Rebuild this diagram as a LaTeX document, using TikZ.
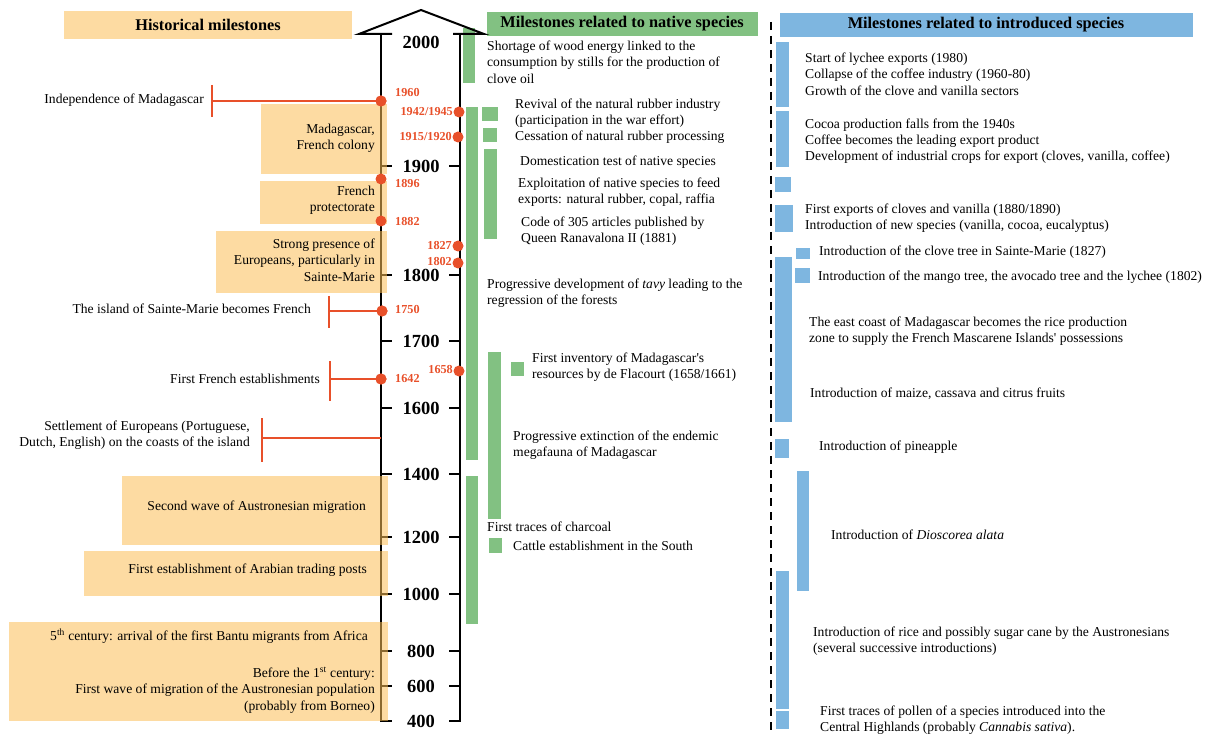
\documentclass[tikz,border=0pt]{standalone}
\usepackage{fontspec}
\setmainfont{Liberation Serif}[Ligatures=TeXOff]
\definecolor{myred}{HTML}{E8502A}
\definecolor{mygreen}{HTML}{82C182}
\definecolor{myblue}{HTML}{7EB6E0}
\definecolor{myorange}{HTML}{FCBE55}
\begin{document}
\begin{tikzpicture}[x=1pt,y=-1pt,
  every node/.style={inner sep=0pt, font=\fontsize{13.6}{16.3}\selectfont},
  axisl/.style={line width=2.6pt, black},
  tickl/.style={line width=2.6pt, black},
  yearl/.style={font=\fontsize{18.5}{20}\selectfont\bfseries},
  dotn/.style={circle, fill=myred, minimum size=11pt},
  redl/.style={text=myred, font=\fontsize{12.2}{14}\selectfont\bfseries},
  redline/.style={draw=myred, line width=2.5pt},
  hbox/.style={fill=myorange, fill opacity=0.55},
  nbar/.style={fill=mygreen},
  ibar/.style={fill=myblue},
  ttl/.style={font=\fontsize{16.3}{18}\selectfont\bfseries},
  lt/.style={anchor=west, align=left},
  rt/.style={anchor=east, align=right},
]
\useasboundingbox (0,0) rectangle (1213,735);

% ---------- titles
\fill[hbox] (64,11) rectangle (352,39);
\node[ttl] (t1) at (208,25) {Historical milestones};
\fill[nbar] (487,12) rectangle (758,36);
\node[ttl] (t2) at (622,24) {Milestones related to native species};
\fill[ibar] (780,13) rectangle (1193,37);
\node[ttl] (t3) at (986,25) {Milestones related to introduced species};

% ---------- green bar under arrow
\fill[nbar] (463,28) rectangle (475,83);

% ---------- axis
\draw[line width=2pt] (392,34) -- (359,34) -- (421,10) -- (484,34) -- (453,34);
\coordinate (topL) at (381,34);
\coordinate (botL) at (381,722);
\coordinate (topR) at (460,34);
\coordinate (botR) at (460,722);
\draw[axisl] (topL) -- (botL);
\draw[axisl] (topR) -- (botR);
\node[yearl] (y2000) at (421,42) {2000};
\foreach \lab/\y in {1900/166,1800/275,1700/341,1600/408,1400/474,1200/537,1000/594,800/651,600/686,400/721}{
  \draw[tickl] (380,\y) -- (392,\y);
  \draw[tickl] (449,\y) -- (461,\y);
  \node[yearl] (y\lab) at (421,\y) {\lab};
}

% ---------- historical boxes
\fill[hbox] (261,104) rectangle (387,174);
\node[rt] (hb1) at (375,138) {Madagascar,\\French colony};
\fill[hbox] (260,181) rectangle (387,224);
\node[rt] (hb2) at (375,200) {French\\protectorate};
\fill[hbox] (216,231) rectangle (387,293);
\node[rt] (hb3) at (375,260) {Strong presence of\\Europeans, particularly in\\Sainte-Marie};
\fill[hbox] (122,476) rectangle (388,545);
\node[rt] (hb4) at (366,507) {Second wave of Austronesian migration};
\fill[hbox] (84,551) rectangle (388,596);
\node[rt] (hb5) at (367,570) {First establishment of Arabian trading posts};
\fill[hbox] (9,622) rectangle (388,721);
\node[rt] (hb6) at (368,636) {5\textsuperscript{th} century: arrival of the first Bantu migrants from Africa};
\node[rt] (hb7) at (375,690) {Before the 1\textsuperscript{st} century:\\First wave of migration of the Austronesian population\\(probably from Borneo)};

% ---------- red events on left axis
\coordinate (e1960) at (212,101);
\coordinate (e1750) at (329,311);
\coordinate (e1642) at (330,379);
\coordinate (eSet) at (262,438);
\coordinate (aSet) at (381,438);
\node[dotn] (d1960) at (381,101) {};
\node[dotn] (d1896) at (381,179) {};
\node[dotn] (d1882) at (381,221) {};
\node[dotn] (d1750) at (382,311) {};
\node[dotn] (d1642) at (381,379) {};
\draw[redline] (e1960) -- (d1960.center);
\draw[redline] (212,85) -- (212,117);
\draw[redline] (e1750) -- (d1750.center);
\draw[redline] (329,296) -- (329,328);
\draw[redline] (e1642) -- (d1642.center);
\draw[redline] (330,361) -- (330,401);
\draw[redline] (eSet) -- (aSet);
\draw[redline] (262,418) -- (262,462);
\node[dotn] at (381,101) {};
\node[dotn] at (382,311) {};
\node[dotn] at (381,379) {};
\node[redl, anchor=west] (l1960) at (395,93) {1960};
\node[redl, anchor=west] (l1896) at (395,184) {1896};
\node[redl, anchor=west] (l1882) at (395,222) {1882};
\node[redl, anchor=west] (l1750) at (395,310) {1750};
\node[redl, anchor=west] (l1642) at (395,379) {1642};

\node[rt] (h1) at (204,100) {Independence of Madagascar};
\node[rt] (h2) at (311,309) {The island of Sainte-Marie becomes French};
\node[rt] (h3) at (320,379) {First French establishments};
\node[rt] (h4) at (250,435) {Settlement of Europeans (Portuguese,\\Dutch, English) on the coasts of the island};

% ---------- red events on right axis
\node[dotn] (d1942) at (459,112) {};
\node[dotn] (d1915) at (458,137) {};
\node[dotn] (d1827) at (458,246) {};
\node[dotn] (d1802) at (458,263) {};
\node[dotn] (d1658) at (459,371) {};
\node[redl, anchor=east] (l1942) at (453,112) {1942/1945};
\node[redl, anchor=east] (l1915) at (452,137) {1915/1920};
\node[redl, anchor=east] (l1827) at (452,246) {1827};
\node[redl, anchor=east] (l1802) at (452,262) {1802};
\node[redl, anchor=east] (l1658) at (453,370) {1658};

% ---------- native species bars
\fill[nbar] (466,107) rectangle (478,460);
\fill[nbar] (466,476) rectangle (478,624);
\fill[nbar] (482,107) rectangle (498,121);
\fill[nbar] (483,128) rectangle (497,142);
\fill[nbar] (484,149) rectangle (497,239);
\fill[nbar] (488,352) rectangle (501,519);
\fill[nbar] (511,362) rectangle (524,376);
\fill[nbar] (489,538) rectangle (502,553);

\node[lt] (n1) at (487,62) {Shortage of wood energy linked to the\\consumption by stills for the production of\\clove oil};
\node[lt] (n2) at (515,113) {Revival of the natural rubber industry\\(participation in the war effort)};
\node[lt] (n3) at (515,137) {Cessation of natural rubber processing};
\node[lt] (n4) at (520,162) {Domestication test of native species};
\node[lt] (n5) at (518,192.5) {Exploitation of native species to feed\\exports: natural rubber, copal, raffia};
\node[lt] (n6) at (521,231.5) {Code of 305 articles published by\\Queen Ranavalona II (1881)};
\node[lt] (n7) at (487,293) {Progressive development of \textit{tavy} leading to the\\regression of the forests};
\node[lt] (n8) at (532,367.5) {First inventory of Madagascar's\\resources by de Flacourt (1658/1661)};
\node[lt] (n9) at (513,445) {Progressive extinction of the endemic\\megafauna of Madagascar};
\node[lt] (n10) at (487,527) {First traces of charcoal};
\node[lt] (n11) at (513,546) {Cattle establishment in the South};

% ---------- dashed separator
\coordinate (sepT) at (771,22);
\coordinate (sepB) at (771,735);
\draw[line width=2pt, dash pattern=on 8pt off 6pt] (sepT) -- (sepB);

% ---------- introduced species bars
\fill[ibar] (776,42) rectangle (789,107);
\fill[ibar] (776,111) rectangle (789,167);
\fill[ibar] (775,177) rectangle (791,192);
\fill[ibar] (775,205) rectangle (793,232);
\fill[ibar] (796,248) rectangle (810,259);
\fill[ibar] (775,257) rectangle (792,422);
\fill[ibar] (795,268) rectangle (810,283);
\fill[ibar] (775,439) rectangle (789,458);
\fill[ibar] (797,471) rectangle (809,591);
\fill[ibar] (776,571) rectangle (789,709);
\fill[ibar] (776,711) rectangle (789,729);

\node[lt] (i1) at (805,74) {Start of lychee exports (1980)\\Collapse of the coffee industry (1960-80)\\Growth of the clove and vanilla sectors};
\node[lt] (i2) at (805,141) {Cocoa production falls from the 1940s\\Coffee becomes the leading export product\\Development of industrial crops for export (cloves, vanilla, coffee)};
\node[lt] (i3) at (805,218.5) {First exports of cloves and vanilla (1880/1890)\\Introduction of new species (vanilla, cocoa, eucalyptus)};
\node[lt] (i4) at (819,252) {Introduction of the clove tree in Sainte-Marie (1827)};
\node[lt] (i5) at (818,277) {Introduction of the mango tree, the avocado tree and the lychee (1802)};
\node[lt] (i6) at (809,331) {The east coast of Madagascar becomes the rice production\\zone to supply the French Mascarene Islands' possessions};
\node[lt] (i7) at (810,394) {Introduction of maize, cassava and citrus fruits};
\node[lt] (i8) at (819,447) {Introduction of pineapple};
\node[lt] (i9) at (831,535) {Introduction of \textit{Dioscorea alata}};
\node[lt] (i10) at (813,641.5) {Introduction of rice and possibly sugar cane by the Austronesians\\(several successive introductions)};
\node[lt] (i11) at (820,720) {First traces of pollen of a species introduced into the\\Central Highlands (probably \textit{Cannabis sativa}).};
\end{tikzpicture}
\end{document}
